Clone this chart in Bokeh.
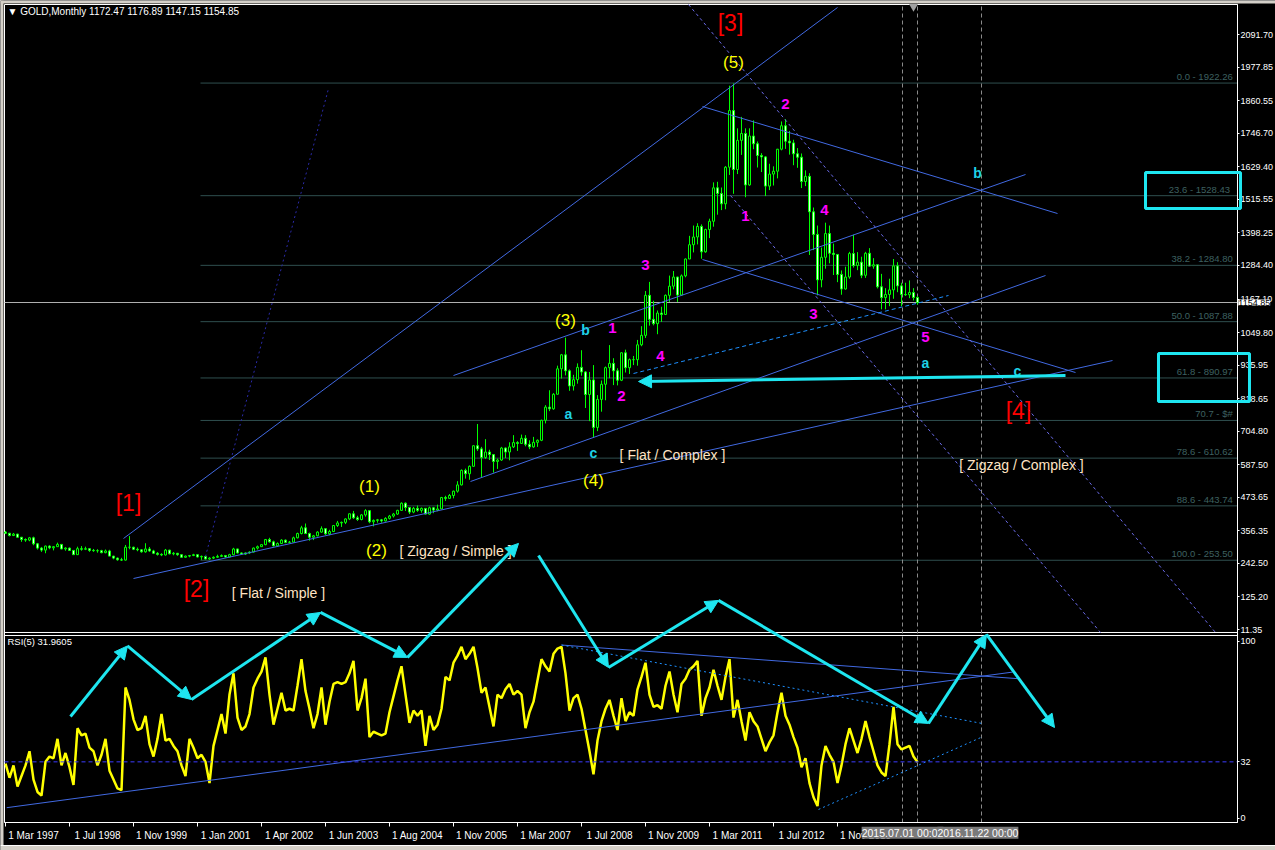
from bokeh.plotting import figure
from bokeh.models import (Range1d, FixedTicker, ColumnDataSource, Label,
                          Arrow, NormalHead, BoxAnnotation, PrintfTickFormatter)
from bokeh.core.properties import value
from bokeh.embed import file_html
from bokeh.resources import INLINE

# ------------------------------------------------------------------ data
first_open = 352.0
closes = [
    348, 340, 345, 334, 326, 324, 332, 311, 296, 289,
    303, 297, 301, 309, 293, 296, 288, 273, 294, 292, 294, 288,
    287, 287, 280, 286, 268, 261, 255, 254, 299, 299, 292,
    290, 283, 293, 286, 278, 274, 272, 289, 276, 278, 273, 264, 268, 270, 273,
    265, 267, 258, 261, 264, 267, 270, 265, 273, 293, 279, 275, 279, 282, 296, 301,
    308, 326, 318, 304, 312, 324, 316, 317, 332, 347, 367, 347, 334, 339, 352, 364,
    346, 354, 375, 384, 386, 398, 416, 402, 396, 412, 427, 388, 393, 395, 391, 400,
    408, 415, 428, 453, 438, 422, 435, 428, 435, 415, 437, 429, 433, 473, 470, 480,
    495, 517, 568, 556, 582, 654, 643, 613, 632, 623, 599, 604, 646, 632, 650, 665,
    662, 680, 659, 650, 666, 673, 743, 789, 783, 834, 923, 972, 916, 863, 885, 928,
    912, 833, 884, 718, 816, 869, 927, 942, 916, 883, 979, 927, 955, 955, 1007, 1040,
    1180, 1096, 1081, 1118, 1113, 1180, 1212, 1244, 1181, 1248, 1307, 1357, 1384, 1421, 1332, 1410,
    1439, 1556, 1536, 1500, 1628, 1826, 1620, 1722, 1746, 1566, 1737, 1710, 1669, 1664, 1562, 1604,
    1614, 1691, 1773, 1719, 1713, 1675, 1663, 1578, 1596, 1472, 1393, 1234, 1313, 1396, 1327, 1323,
    1253, 1202, 1244, 1326, 1284, 1296, 1250, 1327, 1282, 1287, 1210, 1172, 1183, 1199, 1283, 1213,
    1183, 1182, 1190, 1172.47, 1154.85]
highs = [
    356, 349, 349, 346, 335, 330, 335, 336, 314, 300,
    305, 306, 303, 315, 310, 299, 298, 289, 301, 303, 301, 296,
    293, 292, 290, 291, 290, 269, 263, 262, 307, 338, 301,
    298, 292, 313, 300, 290, 282, 278, 293, 290, 282, 279, 275, 270, 272, 276,
    274, 270, 269, 264, 267, 273, 274, 272, 276, 297, 294, 281, 281, 285, 298, 305,
    310, 328, 332, 322, 316, 327, 326, 321, 336, 350, 374, 382, 350, 342, 355, 372,
    366, 360, 376, 391, 389, 400, 417, 426, 409, 415, 432, 429, 396, 398, 398, 404,
    412, 419, 430, 456, 456, 439, 440, 445, 438, 436, 441, 440, 448, 475, 479, 485,
    497, 530, 571, 574, 585, 655, 730, 650, 677, 640, 625, 609, 650, 648, 666, 691,
    670, 693, 691, 673, 685, 676, 745, 796, 848, 838, 934, 975, 1032, 921, 902, 942,
    988, 915, 912, 936, 831, 882, 931, 1006, 960, 925, 981, 990, 959, 968, 1024, 1072,
    1195, 1227, 1161, 1127, 1140, 1183, 1249, 1265, 1245, 1253, 1309, 1388, 1424, 1432, 1428, 1413,
    1448, 1575, 1577, 1557, 1632, 1913, 1921, 1764, 1804, 1764, 1764, 1792, 1718, 1677, 1667, 1640,
    1631, 1692, 1788, 1796, 1755, 1724, 1695, 1676, 1617, 1607, 1487, 1424, 1347, 1434, 1424, 1361,
    1324, 1267, 1280, 1332, 1392, 1331, 1315, 1332, 1345, 1310, 1287, 1255, 1205, 1238, 1307, 1296,
    1224, 1224, 1232, 1205, 1176.89]
lows = [
    345, 337, 338, 333, 318, 318, 320, 306, 291, 283,
    278, 292, 288, 300, 292, 287, 286, 272, 273, 287, 289, 283,
    283, 280, 278, 278, 268, 257, 252, 251, 253, 292, 289,
    285, 280, 280, 283, 275, 270, 268, 270, 274, 271, 269, 263, 262, 264, 268,
    263, 255, 256, 255, 258, 262, 265, 263, 264, 271, 277, 272, 272, 276, 281, 291,
    300, 306, 315, 302, 300, 310, 313, 313, 316, 330, 344, 345, 322, 324, 337, 350,
    342, 341, 352, 370, 370, 380, 394, 398, 391, 393, 406, 383, 372, 385, 385, 389,
    396, 403, 412, 426, 426, 415, 418, 423, 420, 414, 413, 418, 425, 432, 461, 468,
    470, 490, 515, 539, 535, 582, 636, 543, 608, 604, 560, 573, 601, 611, 603, 646,
    636, 660, 652, 642, 647, 650, 670, 732, 775, 780, 834, 889, 900, 846, 847, 871,
    899, 786, 740, 681, 705, 773, 813, 890, 866, 865, 880, 910, 905, 936, 934, 1002,
    1031, 1074, 1075, 1044, 1087, 1111, 1157, 1201, 1157, 1179, 1243, 1307, 1330, 1358, 1308, 1329,
    1380, 1420, 1462, 1478, 1481, 1601, 1535, 1604, 1671, 1523, 1563, 1691, 1627, 1611, 1527, 1548,
    1564, 1589, 1687, 1692, 1672, 1635, 1626, 1555, 1562, 1321, 1338, 1180, 1208, 1273, 1292, 1251,
    1226, 1182, 1200, 1238, 1277, 1268, 1240, 1241, 1280, 1273, 1204, 1131, 1131, 1142, 1168, 1191,
    1142, 1178, 1170, 1162, 1147.15]
rsi5 = [
    31, 23, 30, 18, 24, 30, 38, 22, 15, 13,
    32, 35, 34, 45, 30, 37, 29, 19, 51, 47,
    48, 40, 38, 30, 36, 45, 27, 22, 17, 16,
    74, 67, 56, 50, 51, 58, 42, 35, 45, 59,
    44, 45, 41, 38, 30, 24, 45, 40, 34, 36,
    32, 20, 41, 50, 59, 48, 70, 82, 57, 50,
    52, 59, 74, 79, 83, 91, 70, 53, 62, 71,
    61, 62, 61, 75, 90, 72, 62, 51, 59, 74,
    53, 66, 76, 77, 76, 77, 82, 89, 61, 68,
    79, 46, 49, 48, 47, 48, 60, 69, 78, 86,
    70, 54, 61, 58, 61, 41, 58, 50, 53, 62,
    80, 78, 88, 92, 97, 90, 93, 97, 85, 71,
    74, 63, 52, 70, 68, 73, 76, 70, 72, 70,
    51, 60, 66, 78, 90, 86, 83, 93, 96, 97,
    82, 61, 68, 70, 62, 50, 38, 25, 44, 55,
    62, 67, 58, 50, 68, 55, 60, 58, 73, 80,
    88, 70, 63, 64, 62, 75, 83, 70, 60, 76,
    79, 84, 86, 89, 58, 68, 74, 84, 75, 67,
    80, 90, 57, 67, 55, 44, 60, 55, 52, 45,
    38, 43, 47, 60, 71, 58, 53, 46, 40, 29,
    34, 20, 12, 7, 30, 41, 36, 32, 20, 30,
    42, 51, 44, 37, 45, 55, 46, 38, 30, 26,
    24, 42, 63, 42, 39, 40, 41, 35, 31.96]

x_tick_bars = [0, 16, 32, 48, 64, 80, 96, 112, 128, 144, 160, 176, 192, 208]
x_tick_labels = ["1 Mar 1997", "1 Jul 1998", "1 Nov 1999", "1 Jan 2001", "1 Apr 2002",
                 "1 Jun 2003", "1 Aug 2004", "1 Nov 2005", "1 Mar 2007", "1 Jul 2008",
                 "1 Nov 2009", "1 Mar 2011", "1 Jul 2012", "1 Nov 2013"]
price_ticks = [2091.70, 1977.85, 1860.55, 1746.70, 1629.40, 1515.55, 1398.25, 1284.40,
               1167.10, 1049.80, 935.95, 818.65, 704.80, 587.50, 473.65, 356.35, 242.50,
               125.20, 11.35]
rsi_ticks = [100, 32, 0]
rsi_level = 32
last_price = 1154.85

fib_start_bar = 48.75
fib_levels = [1922.26, 1528.43, 1284.80, 1087.88, 890.97, 742.45, 610.62, 443.74, 253.50]
fib_labels = ["0.0 - 1922.26", "23.6  - 1528.43", "38.2 - 1284.80", "50.0 - 1087.88",
              "61.8 - 890.97", "70.7 - $#", "78.6 - 610.62", "88.6 - 443.74", "100.0 - 253.50"]

# trend lines in (bar, price) : x0, y0, x1, y1
solid_lines = [(29.5, 329.6, 208.0, 2186.5),
               (32.0, 189.7, 276.75, 952.0),
               (116.25, 528.9, 260.0, 1249.3),
               (112.0, 899.6, 255.0, 1602.5),
               (174.25, 1840.3, 263.0, 1466.1),
               (174.25, 1305.2, 267.5, 910.0)]
navy_dotted = [(50.0, 266.6, 80.75, 1903.2)]
slate_dotted = [(170.75, 2197.0, 302.5, 0.86), (181.25, 1529.0, 273.75, 0.86)]
blue_dashed = [(157.0, 906.6, 235.75, 1179.4)]
# lines in the RSI window (bar, rsi)
rsi_solid = [(0.3, 6.1, 251.75, 82.7), (139.0, 98.0, 253.0, 79.0)]
rsi_dotted = [(139.0, 98.0, 244.6, 53.5), (203.25, 5.1, 244.0, 45.9)]

# projected cycle arrows (bar, rsi scale)
zig1_x = [16.25, 30.5, 46.5, 78.75, 100.5, 128.25]
zig1_y = [57.6, 97.5, 67.2, 116.4, 91.0, 155.4]
zig2_x = [133.25, 150.75, 178.25, 230.75, 245.25, 262.25]
zig2_y = [148.6, 85.3, 123.2, 53.7, 104.0, 51.4]
flat_arrow = (265.0, 899.6, 158.25, 878.6)
target_boxes = [(285.0, 308.75, 1483.6, 1609.5), (288.25, 311.0, 808.7, 976.5)]
vlines = [224.25, 228.0, 244.0]
vline_dates = [(224.25, "2015.07.01 00:00"), (243.1, "2016.11.22 00:00")]
shift_marker_bar = 227.0

red_txt = [("[3]", 181.25, 2134), ("[1]", 30.75, 452), ("[2]", 47.75, 154.7), ("[4]", 253.25, 777)]
yel_txt = [("(5)", 182, 1994), ("(1)", 91, 511.4), ("(2)", 92.75, 287.6),
           ("(3)", 140, 1091.9), ("(4)", 147, 532.4)]
mag_txt = [("1", 151.75, 1064), ("2", 154, 829.6), ("3", 160, 1284.3), ("4", 163.75, 969.5),
           ("1", 185, 1459.1), ("2", 195, 1850.8), ("3", 202, 1116.4), ("4", 204.75, 1480.1),
           ("5", 230, 1032.5)]
cyan_txt = [("b", 145, 1057), ("a", 140.75, 766.7), ("c", 147, 630.3),
            ("a", 230, 945), ("b", 243, 1609.5), ("c", 253, 913.6)]
note_txt = [("[ Flat / Simple ]", 68.25, 140.7), ("[ Zigzag / Simple ]", 112.5, 287.6),
            ("[ Flat / Complex ]", 166.75, 623.3), ("[ Zigzag / Complex ]", 254, 584.9)]

# ------------------------------------------------------------------ geometry of the window
X_LO, X_HI = -1.25, 317.5           # whole canvas in bars
P_LO, P_HI = -761.5, 2211.0         # whole canvas in price units
R_LO, R_HI = -18.08, 462.1          # whole canvas in RSI units
CHART_L, CHART_R = -0.25, 308.0     # chart area (bars)
CHART_B, CHART_T = -663.6, 2197.0   # chart area (price units)
SPLIT_1, SPLIT_2 = 0.86, -9.6       # pane separator
WIN_TOP, WIN_LEFT, TABS_TOP = 2200.5, -0.5, -744.0

FONT = value("Liberation Sans")
CYAN = "#1EE6F0"
BLUE = "#4169E1"

p = figure(width=1275, height=850, output_backend="svg", toolbar_location=None,
           x_range=Range1d(X_LO, X_HI), y_range=Range1d(P_LO, P_HI),
           y_axis_location="right",
           background_fill_color="black", border_fill_color="black",
           min_border_left=0, min_border_top=0, min_border_right=0, min_border_bottom=0)
p.extra_y_ranges = {"rsi": Range1d(R_LO, R_HI)}
p.grid.visible = False
p.outline_line_color = None


def rsi_to_price(r):
    return P_LO + (r - R_LO) / (R_HI - R_LO) * (P_HI - P_LO)


# window chrome
p.quad(left=[X_LO, X_LO, X_LO], right=[X_HI, WIN_LEFT, X_HI],
       bottom=[WIN_TOP, P_LO, P_LO], top=[P_HI, P_HI, TABS_TOP],
       fill_color="#D4D0C8", line_color=None)
p.quad(left=[CHART_L], right=[CHART_R], bottom=[CHART_B], top=[CHART_T],
       fill_alpha=0, line_color="white", line_width=1)
p.segment(x0=[X_LO], y0=[TABS_TOP], x1=[X_HI], y1=[TABS_TOP], line_color="white", line_width=1)

# right axis (drawn at the chart's right edge)
yax = p.yaxis[0]
yax.fixed_location = CHART_R
yax.bounds = (CHART_B, CHART_T)
rsi_pos = [rsi_to_price(r) for r in rsi_ticks]
yax.ticker = FixedTicker(ticks=price_ticks + rsi_pos)
yax.formatter = PrintfTickFormatter(format="%.2f")
yax.major_label_overrides = {pos: str(r) for pos, r in zip(rsi_pos, rsi_ticks)}
yax.axis_line_color = "white"
yax.major_tick_line_color = "white"
yax.major_tick_out = 2
yax.major_tick_in = 0
yax.minor_tick_line_color = None
yax.major_label_text_color = "white"
yax.major_label_text_font = "Liberation Sans"
yax.major_label_text_font_size = "9px"
yax.major_label_standoff = 1

# bottom axis (drawn at the chart's bottom edge)
xax = p.xaxis[0]
xax.fixed_location = CHART_B
xax.bounds = (CHART_L, CHART_R)
xax.ticker = FixedTicker(ticks=[b + 7 for b in x_tick_bars], minor_ticks=x_tick_bars)
xax.major_label_overrides = {b + 7: t for b, t in zip(x_tick_bars, x_tick_labels)}
xax.axis_line_color = "white"
xax.major_tick_line_color = None
xax.major_tick_out = 0
xax.major_tick_in = 0
xax.minor_tick_line_color = "white"
xax.minor_tick_out = 4
xax.minor_tick_in = 0
xax.major_label_text_color = "white"
xax.major_label_text_font = "Liberation Sans"
xax.major_label_text_font_size = "10px"
xax.major_label_standoff = 3

# pane separator
p.segment(x0=[CHART_L, CHART_L], y0=[SPLIT_1, SPLIT_2], x1=[CHART_R, CHART_R],
          y1=[SPLIT_1, SPLIT_2], line_color="white", line_width=1)

# fibonacci levels
n_fib = len(fib_levels)
fib_src = ColumnDataSource(dict(x0=[fib_start_bar] * n_fib, x1=[CHART_R] * n_fib,
                                y=fib_levels, lab=fib_labels, xl=[306.8] * n_fib))
p.segment("x0", "y", "x1", "y", source=fib_src, line_color="#2F4F4F", line_width=1)
p.text("xl", "y", "lab", source=fib_src, text_color="#3E6161", text_font=FONT,
       text_font_size="9.5px", text_align="right", text_baseline="bottom", y_offset=-1)

# current price line
p.segment(x0=[CHART_L], y0=[last_price], x1=[CHART_R], y1=[last_price],
          line_color="#B0B0B0", line_width=1)

# vertical dashed lines
p.segment(x0=vlines, y0=[CHART_B] * len(vlines), x1=vlines, y1=[CHART_T] * len(vlines),
          line_color="#8A8A8A", line_width=1, line_dash="4 3")
p.scatter(x=[shift_marker_bar], y=[2190.0], marker="inverted_triangle", size=9,
          fill_color="#A0A0A0", line_color=None)

# candles
idx = list(range(len(closes)))
opens = [first_open] + closes[:-1]
csrc = ColumnDataSource(dict(
    x=idx, h=highs, l=lows,
    top=[max(o, c) for o, c in zip(opens, closes)],
    bot=[min(o, c) for o, c in zip(opens, closes)],
    fill=["black" if c >= o else "#E4FFE4" for o, c in zip(opens, closes)]))
p.segment("x", "h", "x", "l", source=csrc, line_color="#00FF00", line_width=1)
p.vbar(x="x", top="top", bottom="bot", width=0.5, source=csrc,
       fill_color="fill", line_color="#00FF00", line_width=1)


def seg_lines(lines, color, dash="solid", width=1, yr="default"):
    src = ColumnDataSource(dict(x0=[l[0] for l in lines], y0=[l[1] for l in lines],
                                x1=[l[2] for l in lines], y1=[l[3] for l in lines]))
    p.segment("x0", "y0", "x1", "y1", source=src, line_color=color, line_width=width,
              line_dash=dash, y_range_name=yr)


seg_lines(solid_lines, BLUE)
seg_lines(navy_dotted, "#2A2AA8", "2 3")
seg_lines(slate_dotted, "#6A6AE8", "3 3")
seg_lines(blue_dashed, "#1E90FF", "4 3")

# RSI window
p.line(idx, rsi5, y_range_name="rsi", line_color="#FFFF00", line_width=2.5)
seg_lines(rsi_solid, BLUE, yr="rsi")
seg_lines(rsi_dotted, "#1E90FF", "2 3", yr="rsi")
p.segment(x0=[CHART_L], y0=[rsi_level], x1=[CHART_R], y1=[rsi_level], y_range_name="rsi",
          line_color="#3C3CFF", line_width=1, line_dash="4 3")

# texts


def texts(items, color, size, style="normal"):
    src = ColumnDataSource(dict(t=[i[0] for i in items], x=[i[1] for i in items],
                                y=[i[2] for i in items]))
    p.text("x", "y", "t", source=src, text_color=color, text_font=FONT,
           text_font_size=size, text_font_style=style, text_align="center",
           text_baseline="middle")


texts(red_txt, "#FF0000", "23px")
texts(yel_txt, "#FFFF00", "17px")
texts(mag_txt, "#FF00FF", "15px", "bold")
texts(cyan_txt, "#1ED2E6", "14px", "bold")
texts(note_txt, "#FFE4C4", "14px")

p.text(x=[0.5], y=[2172.0], text=["\u25bc GOLD,Monthly  1172.47 1176.89 1147.15 1154.85"],
       text_color="white", text_font=FONT, text_font_size="10px",
       text_baseline="middle", text_align="left")
p.text(x=[0.5], y=[100.0], text=["RSI(5) 31.9605"], y_range_name="rsi",
       text_color="white", text_font=FONT, text_font_size="9.5px",
       text_baseline="middle", text_align="left")

# arrows


def arrows(xs, ys, yr):
    src = ColumnDataSource(dict(x0=xs[:-1], y0=ys[:-1], x1=xs[1:], y1=ys[1:]))
    p.add_layout(Arrow(end=NormalHead(size=13, fill_color=CYAN, line_color=CYAN, line_width=1),
                       x_start="x0", y_start="y0", x_end="x1", y_end="y1", source=src,
                       line_color=CYAN, line_width=3, y_range_name=yr))


arrows(zig1_x, zig1_y, "rsi")
arrows(zig2_x, zig2_y, "rsi")
arrows([flat_arrow[0], flat_arrow[2]], [flat_arrow[1], flat_arrow[3]], "default")

for (l, r, b, t) in target_boxes:
    p.add_layout(BoxAnnotation(left=l, right=r, bottom=b, top=t, fill_alpha=0,
                               line_color=CYAN, line_width=3, line_alpha=1))

# last price tag and vertical line date tags
p.add_layout(Label(x=CHART_R + 0.2, y=last_price, text="1154.85", text_align="left",
                   text_baseline="middle", text_color="black", text_font="Liberation Sans",
                   text_font_size="9px", background_fill_color="white"))
for (bx, txt) in vline_dates:
    p.add_layout(Label(x=bx, y=-699, text=txt, text_align="center", text_baseline="middle",
                       text_color="white", text_font="Liberation Sans", text_font_size="10.5px",
                       background_fill_color="#7A7A7A"))

open("out.html", "w").write(file_html(p, INLINE))
